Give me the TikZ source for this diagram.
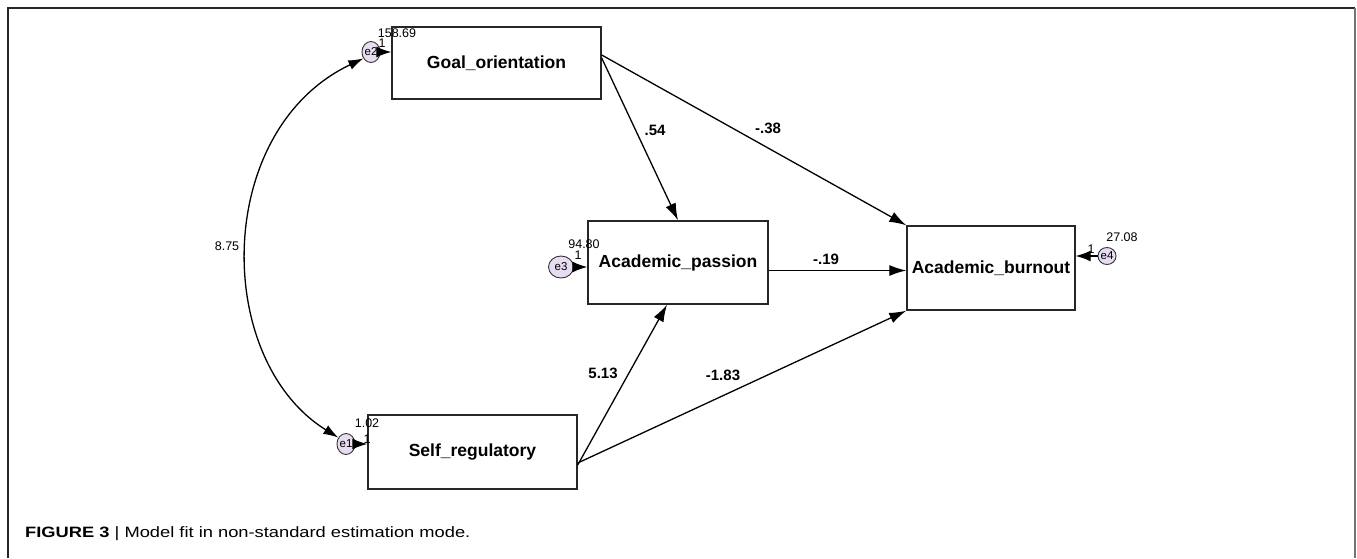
\documentclass[tikz,border=0pt]{standalone}
\usepackage{fontspec}
\setmainfont{Liberation Sans}
\usetikzlibrary{arrows.meta,shapes.geometric}
\definecolor{errfill}{RGB}{232,220,240}
\tikzset{
  varbox/.style={draw=black!85, line width=1.4pt, minimum width=#1, inner sep=0pt, font=\fontsize{17.5}{19}\selectfont\bfseries},
  errnode/.style={ellipse, draw=black!80, line width=0.9pt, fill=errfill, inner sep=0pt, font=\fontsize{11.5}{12}\selectfont},
  arr/.style={line width=1.3pt, -{Latex[length=17pt,width=11pt]}},
  earr/.style={line width=1.3pt, -{Latex[length=15pt,width=11pt]}},
  carr/.style={line width=1.3pt, {Latex[length=15pt,width=10pt]}-{Latex[length=15pt,width=10pt]}},
  small/.style={inner sep=0pt, font=\fontsize{12.5}{13}\selectfont},
  coef/.style={inner sep=0pt, font=\fontsize{15}{16}\selectfont\bfseries},
}
\begin{document}
\begin{tikzpicture}[x=1pt,y=-1pt]
\useasboundingbox (0,0) rectangle (1357,558);
% frame
\draw[line width=1.3pt, black!85] (8,558) -- (8,8) -- (1355,8);
\draw[line width=1.6pt, black!55] (1355,8) -- (1355,558);
% variable boxes
\node[varbox=209pt, minimum height=72pt] (goal) at (496.5,63) {Goal\_orientation};
\node[varbox=209pt, minimum height=74pt] (self) at (472.5,452) {Self\_regulatory};
\node[varbox=180pt, minimum height=83pt] (pass) at (678,262.5) {Academic\_passion};
\node[varbox=168pt, minimum height=84pt] (burn) at (991,268) {Academic\_burnout};
% error terms
\node[errnode, minimum width=16pt, minimum height=21pt] (e2) at (371,52) {e2};
\node[errnode, minimum width=17pt, minimum height=21pt] (e1) at (346,444) {e1};
\node[errnode, minimum width=25pt, minimum height=22pt] (e3) at (561,267) {e3};
\node[errnode, minimum width=16pt, minimum height=17pt] (e4) at (1107,256) {e4};
% error arrows
\draw[earr] (e2) -- (e2 -| goal.west);
\draw[earr] (e1) -- (e1 -| self.west);
\draw[earr] (e3) -- (e3 -| pass.west);
\draw[earr] (e4) -- (e4 -| burn.east);
% error labels
\node[small] (v2) at (397,33) {158.69};
\node[small] (o2) at (382,43) {1};
\node[small] (v1) at (367,423) {1.02};
\node[small] (o1) at (367,439) {1};
\node[small] (v3) at (584,244) {94.80};
\node[small] (o3) at (578,255) {1};
\node[small] (v4) at (1122,237) {27.08};
\node[small] (o4) at (1091,249) {1};
% covariance
\draw[carr] (e2.220) .. controls (213,130) and (213,360) .. (e1.140);
\node[small] (cov) at (227,246) {8.75};
% paths
\draw[arr] ([yshift=5pt]goal.east) -- (pass.north);
\draw[arr] ([yshift=8pt]goal.east) -- (burn.north west);
\draw[arr] ([yshift=-13pt]self.east) -- ([xshift=-11pt]pass.south);
\draw[arr] ([yshift=-11pt]self.east) -- (burn.south west);
\coordinate (pb) at ([yshift=-8pt]pass.east);
\draw[arr] (pb) -- (pb -| burn.west);
% coefficients
\node[coef] (c1) at (655,130) {.54};
\node[coef] (c2) at (768,128) {-.38};
\node[coef] (c3) at (603,373) {5.13};
\node[coef] (c4) at (723,375) {-1.83};
\node[coef] (c5) at (826,259) {-.19};
% caption
\node[anchor=base west, inner sep=0pt] (cap) at (25,537) {\scalebox{1.22}[1]{\fontsize{15}{17}\selectfont\textbf{FIGURE 3} | Model fit in non-standard estimation mode.}};
\end{tikzpicture}
\end{document}
